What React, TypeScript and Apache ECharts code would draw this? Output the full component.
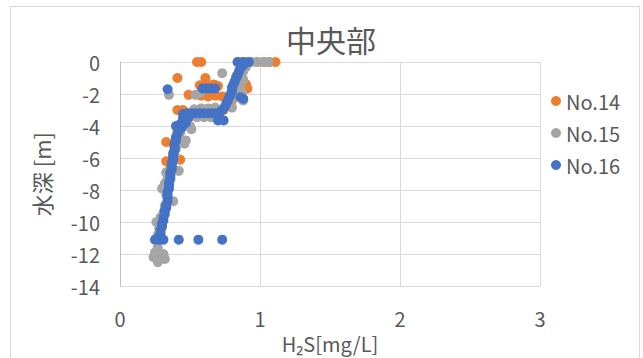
import React, { useEffect, useRef } from "react";
import * as echarts from "echarts";

const titleText = "中央部";
const seriesNames = ["No.14", "No.15", "No.16"];
const seriesColors = ["#ED7D31", "#A5A5A5", "#4472C4"];
const xAxisName = "H₂S[mg/L]";
const yAxisName = "水深 [m]";
const xMin = 0;
const xMax = 3;
const xStep = 1;
const yMin = -14;
const yMax = 0;
const yStep = 2;

// [H2S mg/L, depth m]
const no14: [number, number][] = [
  [0.55, 0], [0.58, 0], [0.84, 0], [0.87, 0], [0.93, 0], [0.98, 0], [1.03, 0], [1.07, 0], [1.11, 0],
  [0.87, -0.3], [0.85, -0.6], [0.83, -0.9], [0.41, -1.0], [0.61, -1.0],
  [0.57, -1.45], [0.62, -1.4], [0.67, -1.4], [0.7, -1.5], [0.9, -1.4], [0.91, -1.65],
  [0.49, -2.05], [0.58, -2.1], [0.63, -2.15], [0.68, -2.1], [0.73, -2.15],
  [0.8, -2.4], [0.77, -2.7], [0.74, -3.0], [0.41, -3.0], [0.45, -3.0], [0.5, -3.2], [0.55, -3.25],
  [0.45, -3.5], [0.43, -3.9], [0.41, -4.3], [0.4, -4.7], [0.38, -5.1], [0.33, -5.0], [0.39, -5.5],
  [0.38, -5.9], [0.33, -6.2], [0.43, -6.1], [0.36, -6.6], [0.36, -7.0], [0.35, -7.5],
];

const no15: [number, number][] = [
  [0.9, 0], [0.94, 0], [0.98, 0], [1.02, 0], [1.06, 0],
  [0.9, -0.3], [0.88, -0.6], [0.73, -0.7], [0.88, -1.1], [0.86, -1.4], [0.84, -1.7], [0.87, -1.9],
  [0.88, -2.4], [0.82, -2.2], [0.77, -2.75], [0.8, -2.85],
  [0.35, -2.05], [0.54, -2.05], [0.57, -1.95],
  [0.53, -2.95], [0.58, -2.9], [0.63, -2.9], [0.68, -2.85],
  [0.49, -3.5], [0.55, -3.45], [0.6, -3.45], [0.65, -3.45], [0.5, -4.0], [0.51, -4.2],
  [0.43, -4.4], [0.42, -4.6], [0.47, -4.9], [0.46, -5.1], [0.4, -5.4], [0.39, -5.8], [0.38, -6.2],
  [0.37, -6.5], [0.42, -6.8], [0.33, -6.9], [0.34, -7.3], [0.32, -7.6], [0.3, -7.9], [0.33, -8.3],
  [0.38, -8.7], [0.32, -9.0], [0.31, -9.4], [0.29, -9.7], [0.26, -10.0], [0.28, -10.4], [0.27, -10.8],
  [0.27, -11.2], [0.27, -11.6], [0.25, -11.9], [0.31, -12.0], [0.24, -12.2], [0.29, -12.3],
  [0.27, -12.5], [0.32, -12.3],
];

const no16: [number, number][] = [
  [0.84, 0], [0.88, 0], [0.92, 0],
  [0.88, -0.2], [0.86, -0.4], [0.85, -0.6], [0.84, -0.8], [0.83, -1.0], [0.82, -1.2], [0.81, -1.4],
  [0.8, -1.6], [0.8, -1.8], [0.79, -2.0], [0.78, -2.2], [0.77, -2.4], [0.76, -2.6], [0.75, -2.8],
  [0.73, -3.0], [0.71, -3.2],
  [0.86, -2.2], [0.88, -2.3],
  [0.34, -1.7], [0.59, -1.65], [0.62, -1.65], [0.65, -1.65], [0.68, -1.65],
  [0.45, -3.25], [0.48, -3.2], [0.51, -3.2], [0.54, -3.2], [0.57, -3.2], [0.6, -3.2], [0.63, -3.2],
  [0.66, -3.2], [0.69, -3.2],
  [0.7, -3.65], [0.74, -3.65],
  [0.47, -3.35], [0.49, -3.45], [0.45, -3.6], [0.47, -3.8], [0.43, -3.9], [0.4, -4.0], [0.44, -4.1],
  [0.42, -4.3], [0.41, -4.5], [0.4, -4.7], [0.4, -4.9], [0.39, -5.1], [0.39, -5.3], [0.39, -5.5],
  [0.38, -5.7], [0.38, -5.9], [0.38, -6.1], [0.37, -6.3], [0.37, -6.5], [0.37, -6.7], [0.36, -6.9],
  [0.36, -7.1], [0.36, -7.3], [0.35, -7.5], [0.35, -7.7], [0.35, -7.9], [0.34, -8.1], [0.34, -8.3],
  [0.34, -8.5], [0.34, -8.7], [0.33, -8.9], [0.33, -9.1], [0.32, -9.3], [0.32, -9.5], [0.31, -9.7],
  [0.31, -9.9], [0.3, -10.1], [0.3, -10.3], [0.29, -10.5], [0.29, -10.7], [0.28, -10.9],
  [0.25, -11.1], [0.28, -11.1], [0.31, -11.1], [0.42, -11.1], [0.56, -11.1], [0.73, -11.1],
];

const seriesData = [no14, no15, no16];

const FONT = "'Noto Sans CJK JP', 'Noto Sans', sans-serif";
const TEXT_COLOR = "#595959";

export default function App() {
  const ref = useRef<HTMLDivElement>(null);
  useEffect(() => {
    document.body.style.margin = "0";
    const chart = echarts.init(ref.current!, null, { renderer: "svg" });
    chart.setOption({
      animation: false,
      backgroundColor: "#ffffff",
      textStyle: { fontFamily: FONT, color: TEXT_COLOR },
      title: {
        text: titleText,
        left: 281,
        top: 19,
        textStyle: { fontSize: 30, fontWeight: "normal", color: TEXT_COLOR, fontFamily: FONT },
      },
      legend: {
        orient: "vertical",
        left: 546,
        top: 86,
        itemWidth: 10,
        itemHeight: 10,
        itemGap: 12,
        icon: "circle",
        data: seriesNames,
        textStyle: { fontSize: 20, color: TEXT_COLOR, fontFamily: FONT },
      },
      grid: { left: 120, right: 103, top: 62, bottom: 70 },
      xAxis: {
        type: "value",
        min: xMin,
        max: xMax,
        interval: xStep,
        name: xAxisName,
        nameLocation: "middle",
        nameGap: 42,
        nameTextStyle: { fontSize: 20, color: TEXT_COLOR, fontFamily: FONT },
        axisLine: { show: false },
        axisTick: { show: false },
        splitLine: { lineStyle: { color: "#d9d9d9", width: 1 } },
        axisLabel: { fontSize: 20, color: TEXT_COLOR, margin: 22, fontFamily: FONT },
      },
      yAxis: {
        type: "value",
        min: yMin,
        max: yMax,
        interval: yStep,
        name: yAxisName,
        nameLocation: "middle",
        nameGap: 68,
        nameRotate: 90,
        nameTextStyle: { fontSize: 22, color: TEXT_COLOR, fontFamily: FONT },
        axisLine: { show: true, onZero: false, lineStyle: { color: "#bfbfbf", width: 1 } },
        axisTick: { show: false },
        splitLine: { lineStyle: { color: "#d9d9d9", width: 1 } },
        axisLabel: { fontSize: 20, color: TEXT_COLOR, margin: 20, fontFamily: FONT },
      },
      graphic: [
        {
          type: "rect",
          shape: { x: 10.5, y: 6.5, width: 629, height: 360 },
          style: { fill: "none", stroke: "#d9d9d9", lineWidth: 1 },
          silent: true,
          z: -1,
        },
      ],
      series: seriesNames.map((name, i) => ({
        name,
        type: "scatter",
        data: seriesData[i],
        symbol: "circle",
        symbolSize: 10,
        itemStyle: { color: seriesColors[i], opacity: 1 },
      })),
    });
    return () => chart.dispose();
  }, []);
  return (
    <div
      ref={ref}
      style={{ position: "fixed", left: 0, top: 0, width: 643, height: 358, background: "#fff" }}
    />
  );
}
